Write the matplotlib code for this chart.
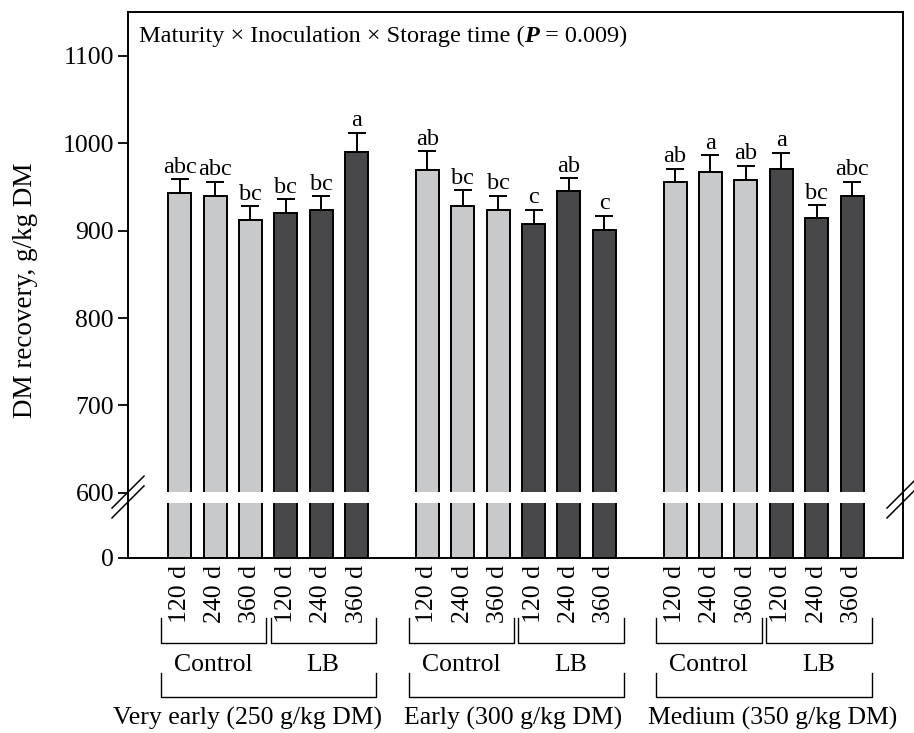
import numpy as np
import matplotlib
matplotlib.use("Agg")
import matplotlib.pyplot as plt
from matplotlib.patches import Rectangle
from matplotlib.lines import Line2D
from matplotlib.transforms import blended_transform_factory
from matplotlib.offsetbox import TextArea, HPacker, AnchoredOffsetbox

plt.rcParams['font.family'] = ['Liberation Serif', 'DejaVu Serif']

# ---------------- data ----------------
storage_labels = ["120 d", "240 d", "360 d"]
inoculants = ["Control", "LB"]
maturity_labels = ["Very early (250 g/kg DM)", "Early (300 g/kg DM)", "Medium (350 g/kg DM)"]

very_early_vals = [943, 940, 912, 920, 924, 990]
very_early_err = [16, 16, 16, 16, 15, 22]
very_early_letters = ["abc", "abc", "bc", "bc", "bc", "a"]

early_vals = [969, 928, 923, 908, 945, 901]
early_err = [22, 18, 17, 16, 15, 16]
early_letters = ["ab", "bc", "bc", "c", "ab", "c"]

medium_vals = [956, 967, 958, 971, 914, 940]
medium_err = [15, 19, 16, 18, 15, 16]
medium_letters = ["ab", "a", "ab", "a", "bc", "abc"]

y_ticks = [0, 600, 700, 800, 900, 1000, 1100]
annotation_text = ("Maturity × Inoculation × Storage time (", "P", " = 0.009)")
y_label = "DM recovery, g/kg DM"

# ---------------- styling / layout ----------------
light = "#c8c9cb"
dark = "#48484a"
FS = 18.5
LFS = 17.5

# broken y scale: 0-600 compressed
BR = 600.0
LOWU = 0.7446  # units for 0..600 (1 unit = 100 above the break)

def fwd(v):
    v = np.asarray(v, dtype=float)
    return np.where(v <= BR, v / BR * LOWU, LOWU + (v - BR) / 100.0)

def inv(u):
    u = np.asarray(u, dtype=float)
    return np.where(u <= LOWU, u / LOWU * BR, BR + (u - LOWU) * 100.0)

fig = plt.figure(figsize=(9.14, 7.33), dpi=100)
ax = fig.add_axes([128 / 914, 1 - 558 / 733, (903 - 128) / 914, (558 - 12) / 733])
ax.set_yscale('function', functions=(fwd, inv))

groups = [
    (very_early_vals, very_early_err, very_early_letters),
    (early_vals, early_err, early_letters),
    (medium_vals, medium_err, medium_letters),
]

xs_all = []
xlabels_all = []
group_starts = []
for gi, (vals, errs, lets) in enumerate(groups):
    start = gi * 7
    group_starts.append(start)
    xs = np.arange(6) + start
    colors = [light] * 3 + [dark] * 3
    ax.bar(xs, vals, width=0.65, color=colors, edgecolor='black', linewidth=1.4, zorder=2)
    ax.errorbar(xs, vals, yerr=[np.zeros(6), errs], fmt='none', ecolor='black',
                elinewidth=1.4, capsize=6.5, capthick=1.4, zorder=3)
    for x, v, e, l in zip(xs, vals, errs, lets):
        ax.annotate(l, (x, v + e), xytext=(0, 1.0), textcoords='offset points',
                    ha='center', va='bottom', fontsize=LFS)
    xs_all.extend(xs)
    xlabels_all.extend(storage_labels * 2)

ax.set_xlim(-1.46, 20.44)
ax.set_ylim(0, 1150)
ax.set_yticks(y_ticks)
ax.set_yticklabels([str(t) for t in y_ticks])
ax.yaxis.set_minor_locator(matplotlib.ticker.NullLocator())
ax.tick_params(axis='y', direction='out', length=7, width=1.3, labelsize=FS, pad=3)
ax.set_xticks(xs_all)
ax.set_xticklabels(xlabels_all, rotation=90, fontsize=FS)
ax.tick_params(axis='x', length=0, pad=5)
for s in ax.spines.values():
    s.set_linewidth(1.4)
ax.set_ylabel(y_label, fontsize=19.5)
ax.yaxis.set_label_coords(-0.116, 0.49)

# white gap for the axis break
ax.add_patch(Rectangle((0, 0.1007), 1, 0.0205, transform=ax.transAxes,
                       facecolor='white', edgecolor='none', zorder=2.4))
# break marks
for xc in (0.0, 1.0):
    for dy in (-0.009, 0.009):
        x0 = xc - 16 / 775
        x1 = xc + 16 / 775
        yc = 0.1117 + dy
        ax.add_line(Line2D([x0, x1], [yc - 16 / 546, yc + 16 / 546], transform=ax.transAxes,
                           color='black', linewidth=1.1, clip_on=False, zorder=5))

# annotation with bold-italic P
AFS = 17.5
t1 = TextArea(annotation_text[0], textprops=dict(fontsize=AFS))
t2 = TextArea(annotation_text[1], textprops=dict(fontsize=AFS, style='italic', weight='bold'))
t3 = TextArea(annotation_text[2], textprops=dict(fontsize=AFS))
box = HPacker(children=[t1, t2, t3], align='baseline', pad=0, sep=0)
anch = AnchoredOffsetbox(loc='upper left', child=box, pad=0, frameon=False,
                         bbox_to_anchor=(0.014, 0.975), bbox_transform=ax.transAxes, borderpad=0)
ax.add_artist(anch)

# brackets below
trans = blended_transform_factory(ax.transData, fig.transFigure)
def bracket(x0, x1, ytop, ybot):
    fig.add_artist(Line2D([x0, x0, x1, x1], [ytop, ybot, ybot, ytop], transform=trans,
                          color='black', linewidth=1.0, clip_on=False))

label_x_offsets = [1.92, 2.43, 2.75]
for gi, start in enumerate(group_starts):
    bracket(start - 0.53, start + 2.45, 1 - 618 / 733, 1 - 643 / 733)
    bracket(start + 2.57, start + 5.55, 1 - 618 / 733, 1 - 643 / 733)
    fig.text(0, 1 - 665 / 733, inoculants[0], transform=trans, fontsize=FS, ha='center', va='center')
    fig.texts[-1].set_x(start + 0.95)
    fig.text(0, 1 - 665 / 733, inoculants[1], transform=trans, fontsize=FS, ha='center', va='center')
    fig.texts[-1].set_x(start + 4.05)
    bracket(start - 0.53, start + 5.55, 1 - 673 / 733, 1 - 697 / 733)
    fig.text(0, 1 - 718 / 733, maturity_labels[gi], transform=trans, fontsize=FS, ha='center', va='center')
    fig.texts[-1].set_x(start + label_x_offsets[gi])

fig.savefig("out.png", dpi=100)
